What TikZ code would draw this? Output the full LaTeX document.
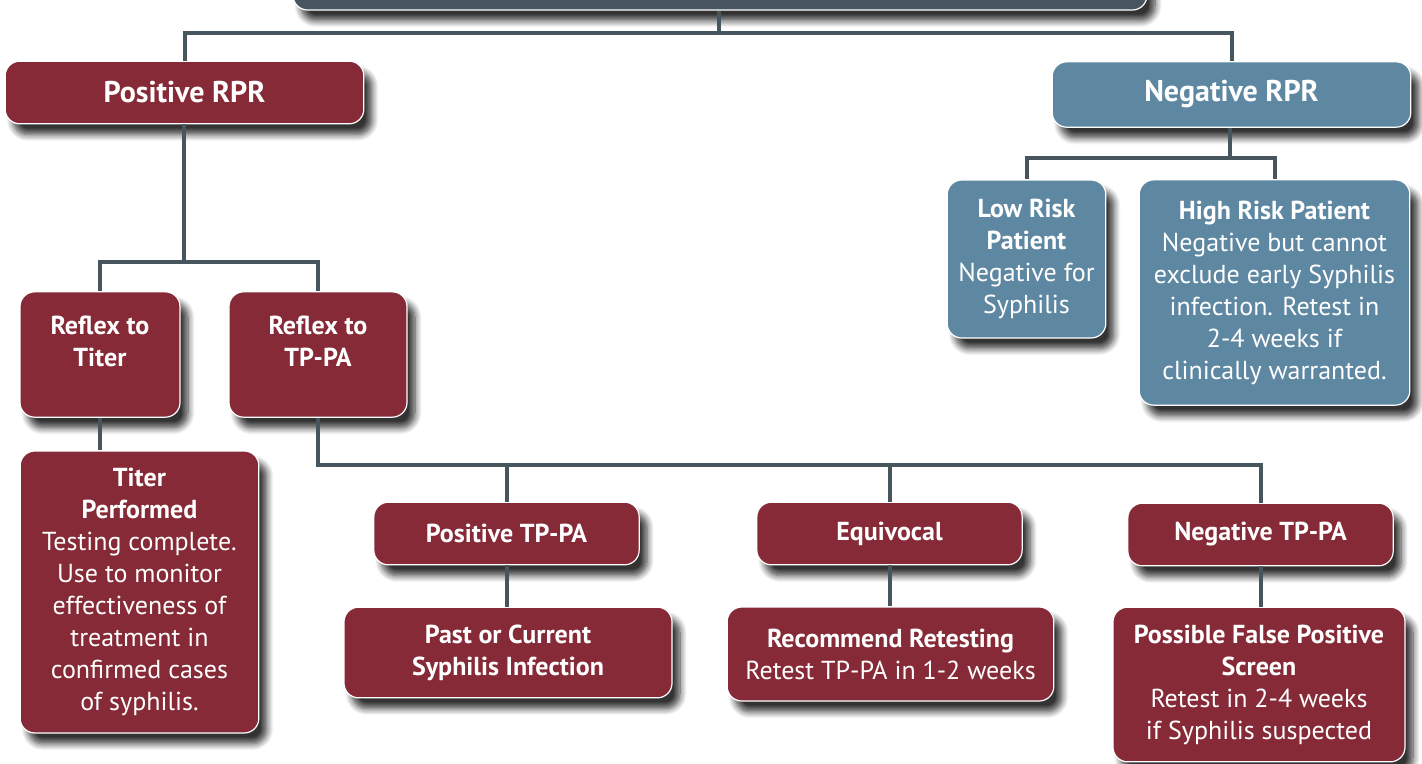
\documentclass[tikz,border=0pt]{standalone}
\usepackage{fontspec}
\setmainfont{PT Sans}
\usepackage{tikz}
\usetikzlibrary{shadows.blur}

\definecolor{rprred}{RGB}{133,42,54}
\definecolor{rprblue}{RGB}{94,135,162}
\definecolor{rprslate}{RGB}{70,85,95}
\definecolor{linkgrey}{RGB}{71,85,95}

\tikzset{
  box/.style={rounded corners=11pt, draw=white, line width=0.9pt, text=white,
    align=center, inner sep=0pt,
    font=\fontsize{19.5pt}{24pt}\selectfont,
    blur shadow={shadow xshift=6pt, shadow yshift=-8pt, shadow blur radius=5pt,
      shadow blur steps=8, shadow opacity=80}},
  redbox/.style={box, fill=rprred},
  bluebox/.style={box, fill=rprblue},
  bigbox/.style={font=\fontsize{22.5pt}{26pt}\selectfont\bfseries},
  link/.style={draw=linkgrey, line width=3pt}
}

\begin{document}
\begin{tikzpicture}[x=0.75pt,y=0.75pt,yscale=-1,xscale=1]
\useasboundingbox (0,0) rectangle (1422,764);

% top box, mostly off the page
\node [box, fill=rprslate, minimum width=640.5pt, minimum height=37.5pt] (top) at (720,-15) {};

% first level
\node [redbox, bigbox, minimum width=269pt, minimum height=47pt] (posrpr) at (184.5,92.5) {Positive RPR};
\node [bluebox, bigbox, minimum width=269pt, minimum height=49pt] (negrpr) at (1231.5,94.5) {Negative RPR};

% negative branch
\node [bluebox, minimum width=119pt, minimum height=118.5pt] (lowrisk) at (1026.5,259) {\bfseries Low Risk\\\bfseries Patient\\Negative for\\Syphilis};
\node [bluebox, minimum width=203pt, minimum height=169pt] (highrisk) at (1274.5,292.5) {\bfseries High Risk Patient\\Negative but cannot\\exclude early Syphilis\\infection. Retest in\\2-4 weeks if\\clinically warranted.};

% positive branch
\node [redbox, minimum width=120pt, minimum height=94pt] (titer) at (100,354.5) {\bfseries Reflex to\\\bfseries Titer\\[-4pt]\mbox{}};
\node [redbox, minimum width=133.5pt, minimum height=94pt] (tppa) at (318,354.5) {\bfseries Reflex to\\\bfseries TP-PA\\[-4pt]\mbox{}};
\node [redbox, minimum width=179pt, minimum height=211.5pt] (titerdone) at (139.5,592) {\bfseries Titer\\\bfseries Performed\\Testing complete.\\Use to monitor\\effectiveness of\\treatment in\\confirmed cases\\of syphilis.};

% TP-PA results
\node [redbox, minimum width=199pt, minimum height=47pt] (postppa) at (506.5,533.5) {\bfseries Positive TP-PA};
\node [redbox, minimum width=199pt, minimum height=47pt] (equiv) at (889.5,533.5) {\bfseries Equivocal};
\node [redbox, minimum width=199pt, minimum height=47pt] (negtppa) at (1260.5,534.5) {\bfseries Negative TP-PA};

\node [redbox, minimum width=246pt, minimum height=68pt] (pastinf) at (508,652.5) {\bfseries Past or Current\\\bfseries Syphilis Infection};
\node [redbox, minimum width=245pt, minimum height=70.5pt] (retest) at (890.5,654) {\bfseries Recommend Retesting\\Retest TP-PA in 1-2 weeks};
\node [redbox, minimum width=219pt, minimum height=116pt] (falsepos) at (1259,684.5) {\bfseries Possible False Positive\\\bfseries Screen\\Retest in 2-4 weeks\\if Syphilis suspected};

% connectors
\coordinate (splitA) at (719,33);
\coordinate (splitB) at (184,262);
\coordinate (splitC) at (318,465);
\coordinate (splitD) at (1230,158);

\draw [link] (top.south -| splitA) -- (splitA);
\draw [link] (posrpr.north) |- (splitA) -| (negrpr.north);
\draw [link] (negrpr.south -| splitD) -- (splitD);
\draw [link] (lowrisk.north) |- (splitD) -| (highrisk.north);
\draw [link] (posrpr.south -| splitB) -- (splitB);
\draw [link] (titer.north) |- (splitB) -| (tppa.north);
\draw [link] (titer.south) -- (titer.south |- titerdone.north);
\draw [link] (tppa.south) -- (splitC) -| (negtppa.north);
\draw [link] (postppa.north) -- (postppa.north |- splitC);
\draw [link] (equiv.north) -- (equiv.north |- splitC);
\draw [link] (postppa.south) -- (postppa.south |- pastinf.north);
\draw [link] (equiv.south) -- (equiv.south |- retest.north);
\draw [link] (negtppa.south) -- (negtppa.south |- falsepos.north);

\end{tikzpicture}
\end{document}
